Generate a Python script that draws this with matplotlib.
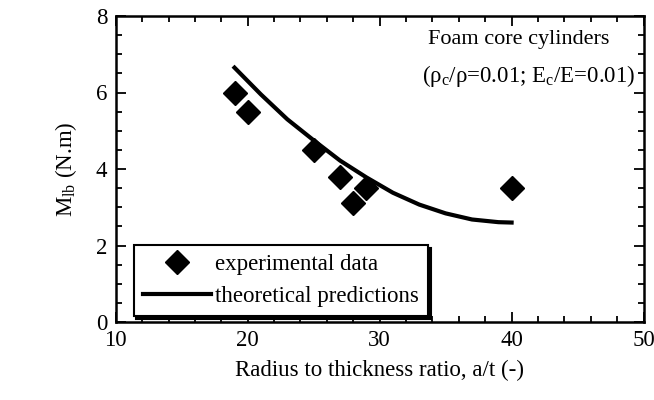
import numpy as np
import matplotlib
matplotlib.use("Agg")
import matplotlib.pyplot as plt
from matplotlib.ticker import MultipleLocator

plt.rcParams['font.family'] = ['Liberation Serif', 'DejaVu Serif']
plt.rcParams['mathtext.fontset'] = 'custom'
plt.rcParams['mathtext.rm'] = 'Liberation Serif'
plt.rcParams['mathtext.it'] = 'Liberation Serif:italic'

# measured local buckling moments
exp_ratio = [19, 20, 25, 27, 28, 29, 40]
exp_moment = [6.0, 5.5, 4.5, 3.8, 3.1, 3.5, 3.5]

# theory curve
theory_ratio = [19, 21, 23, 25, 27, 29, 31, 33, 35, 37, 39, 40]
theory_moment = [6.65, 5.95, 5.3, 4.75, 4.22, 3.78, 3.38, 3.07, 2.84, 2.68, 2.61, 2.6]

fig = plt.figure(figsize=(6.54, 4.0), dpi=100)
ax = fig.add_axes([0.177, 0.195, 0.807, 0.765])

ax.plot(exp_ratio, exp_moment, 'D', color='black', markersize=12,
        label='experimental data')
ax.plot(theory_ratio, theory_moment, '-', color='black', linewidth=3,
        label='theoretical predictions')

ax.set_xlim(10, 50)
ax.set_ylim(0, 8)
ax.xaxis.set_major_locator(MultipleLocator(10))
ax.xaxis.set_minor_locator(MultipleLocator(2))
ax.yaxis.set_major_locator(MultipleLocator(2))
ax.yaxis.set_minor_locator(MultipleLocator(0.5))
ax.tick_params(which='both', direction='in', top=True, right=True,
               labelsize=16.5, width=1.3)
ax.tick_params(which='major', length=7, pad=6)
ax.tick_params(which='minor', length=4)
for s in ax.spines.values():
    s.set_linewidth(1.8)

ax.set_xlabel('Radius to thickness ratio, a/t (-)', fontsize=16.5, labelpad=6)
ax.set_ylabel(r'$\mathrm{M_{lb}}$ (N.m)', fontsize=16.5, labelpad=12)

ax.text(0.935, 0.955, 'Foam core cylinders', transform=ax.transAxes,
        ha='right', va='top', fontsize=16)
ax.text(0.985, 0.845, r'($\mathrm{\rho_c/\rho}$=0.01; $\mathrm{E_c/E}$=0.01)',
        transform=ax.transAxes, ha='right', va='top', fontsize=16.5)

leg = ax.legend(loc='lower left', bbox_to_anchor=(0.025, 0.005), fontsize=16.5,
                fancybox=False, edgecolor='black', framealpha=1,
                shadow={'color': 'black', 'alpha': 1},
                handlelength=3.0, handletextpad=0.15, borderpad=0.4,
                labelspacing=0.45, borderaxespad=0.2)
leg.get_frame().set_linewidth(1.5)

fig.savefig('out.png', dpi=100)
